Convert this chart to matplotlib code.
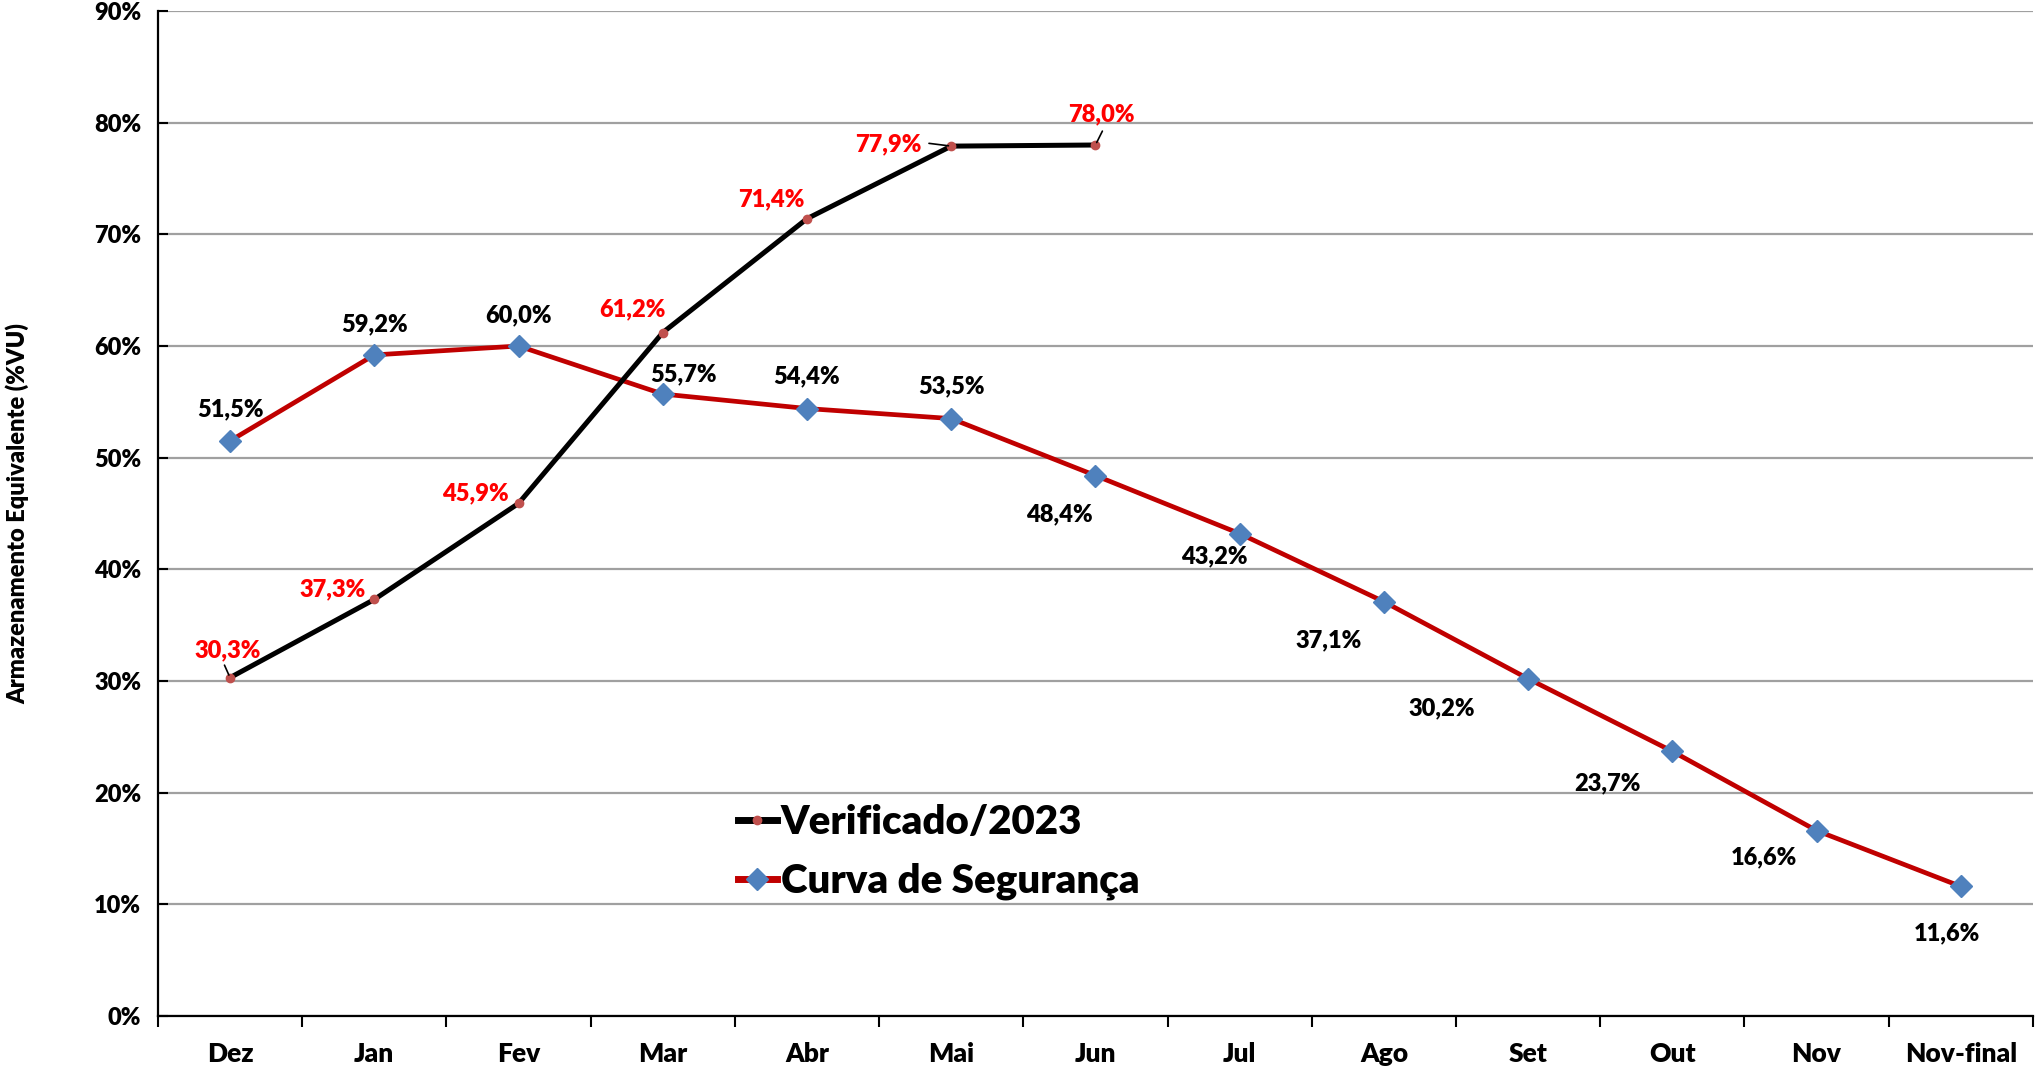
import matplotlib
matplotlib.use("Agg")
import matplotlib.pyplot as plt
from matplotlib.ticker import FixedLocator
import numpy as np

plt.rcParams['font.family'] = ['Lato', 'DejaVu Sans']
W = 'heavy'
plt.rcParams['font.weight'] = W

categories = ["Dez", "Jan", "Fev", "Mar", "Abr", "Mai", "Jun", "Jul", "Ago", "Set", "Out", "Nov", "Nov-final"]
verificado = [30.3, 37.3, 45.9, 61.2, 71.4, 77.9, 78.0]
curva = [51.5, 59.2, 60.0, 55.7, 54.4, 53.5, 48.4, 43.2, 37.1, 30.2, 23.7, 16.6, 11.6]
yticks = [0, 10, 20, 30, 40, 50, 60, 70, 80, 90]

# label offsets in points (layout only)
ver_off = [(-2, 20), (-30, 7.5), (-31, 7.5), (-22, 17), (-26, 14), (-45, 1), (4, 22)]
cur_off = [(0, 23), (0, 22), (0, 22), (15, 14), (0, 23), (0, 23), (-26, -28), (-18, -16),
           (-40, -28), (-62, -21), (-47, -23), (-38, -19), (-10, -34)]

fig = plt.figure(figsize=(20.35, 10.69), dpi=100)
ax = fig.add_axes([0.0776, 0.0496, 0.9214, 0.9401])

x_all = np.arange(len(categories))
x_ver = np.arange(len(verificado))

ax.plot(x_all, curva, color='#C00000', lw=3.4, marker='D', markersize=11,
        markerfacecolor='#4F81BD', markeredgecolor='#4F81BD', label='Curva de Segurança', zorder=3)
ax.plot(x_ver, verificado, color='black', lw=3.6, marker='o', markersize=6,
        markerfacecolor='#C0504D', markeredgecolor='#C0504D', label='Verificado/2023', zorder=4)

def fmt(v):
    return f"{v:.1f}%".replace('.', ',')

FS = 17
for i, v in enumerate(verificado):
    dx, dy = ver_off[i]
    ax.annotate(fmt(v), (x_ver[i], v), xytext=(dx, dy), textcoords='offset points',
                ha='center', va='center', color='red', fontsize=FS, fontweight=W, zorder=6)

for i, v in enumerate(curva):
    dx, dy = cur_off[i]
    ax.annotate(fmt(v), (x_all[i], v), xytext=(dx, dy), textcoords='offset points',
                ha='center', va='center', color='black', fontsize=FS, fontweight=W, zorder=6)

# small leader lines
for i, p1 in {0: (-4, 9), 5: (-16, 2), 6: (5, 10)}.items():
    ax.annotate('', (x_ver[i], verificado[i]), xytext=p1, textcoords='offset points',
                arrowprops=dict(arrowstyle='-', color='black', lw=1.2, shrinkA=0, shrinkB=2), zorder=5)

ax.set_xlim(-0.5, len(categories) - 0.5)
ax.set_ylim(0, 90)
ax.set_yticks(yticks)
ax.set_yticklabels([f"{t}%" for t in yticks], fontsize=FS, fontweight=W)
ax.set_xticks(x_all)
ax.set_xticklabels(categories, fontsize=19, fontweight=W)
ax.xaxis.set_minor_locator(FixedLocator(np.arange(-0.5, len(categories), 1.0)))
ax.tick_params(axis='x', which='major', length=0, pad=19)
ax.tick_params(axis='x', which='minor', length=8, width=1.5, direction='out', color='black')
ax.tick_params(axis='y', which='major', length=7, width=1.5, direction='in', pad=12)

ax.grid(axis='y', color='#A0A0A0', lw=1.6, zorder=0)
ax.set_axisbelow(True)
for s in ['top', 'right']:
    ax.spines[s].set_visible(False)
ax.spines['left'].set_linewidth(1.6)
ax.spines['bottom'].set_linewidth(1.6)

ax.set_ylabel('Armazenamento Equivalente (%VU)', fontsize=17, fontweight=W)
ax.yaxis.set_label_coords(-0.0685, 0.5)

handles, labels = ax.get_legend_handles_labels()
leg = fig.legend(handles[::-1], labels[::-1], loc='center left', bbox_to_anchor=(0.345, 0.203),
                 frameon=False, handlelength=0.95, handletextpad=0.1, labelspacing=0.55,
                 prop={'family': ['Lato', 'DejaVu Sans'], 'weight': W, 'size': 29})
for h in leg.legend_handles:
    h.set_linewidth(5)

fig.savefig('out.png', dpi=100)
